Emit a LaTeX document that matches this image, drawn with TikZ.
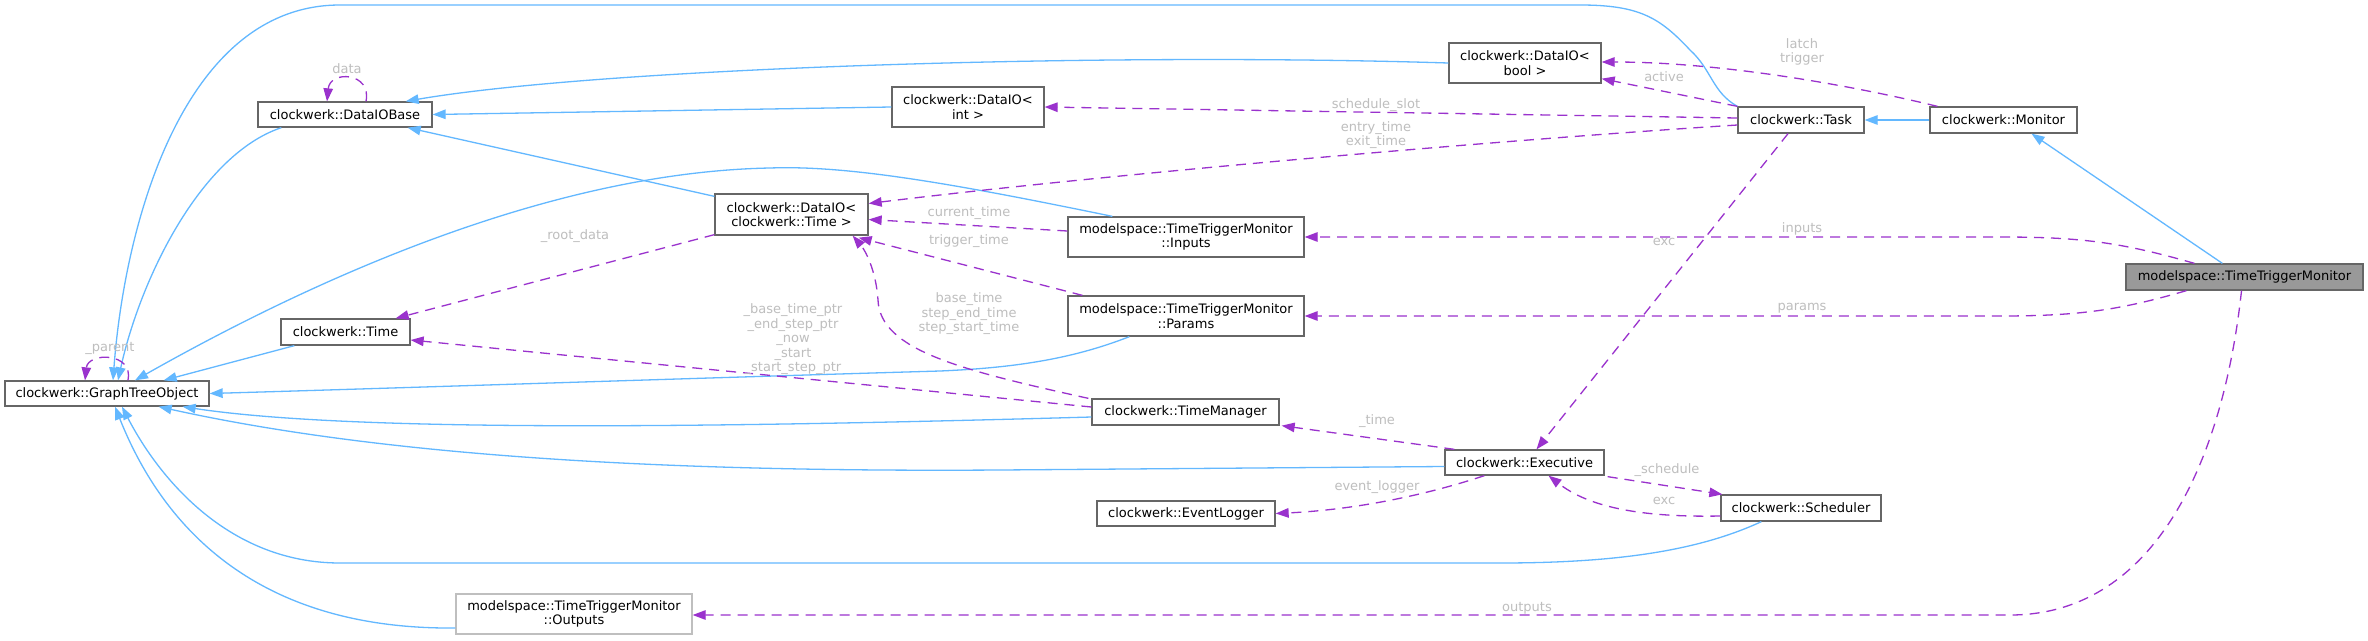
\documentclass[tikz,border=0pt]{standalone}
\usepackage{fontspec}
\setmainfont{DejaVu Sans}
\usetikzlibrary{calc,arrows.meta}
\definecolor{sblue}{HTML}{63B8FF}
\definecolor{dorchid}{HTML}{9A32CD}
\definecolor{greyforty}{HTML}{666666}
\definecolor{greyseventyfive}{HTML}{BFBFBF}
\definecolor{greysixty}{HTML}{999999}
\definecolor{lgrey}{HTML}{BEBEBE}
\tikzset{
  cls/.style={draw=greyforty, fill=white, line width=1.3pt, inner sep=0pt, align=center,
    font=\fontsize{13}{14.5}\selectfont},
  inh/.style={draw=sblue, line width=1.3pt, -{Triangle[length=13pt,width=9.5pt]}},
  use/.style={draw=dorchid, line width=1.3pt, dash pattern=on 10pt off 7pt,
    -{Triangle[length=13pt,width=9.5pt]}},
  lbl/.style={text=lgrey, font=\fontsize{13}{14.5}\selectfont, align=center, inner sep=0pt}
}
\begin{document}
\begin{tikzpicture}[x=1pt,y=-1pt]
\fill[white] (0,0) rectangle (2368,640);
\useasboundingbox (0,0) rectangle (2368,640);
% nodes
\node[cls, minimum width=174pt, minimum height=25pt] (DataIOBase) at (345,114.5) {clockwerk::DataIOBase};
\node[cls, minimum width=204pt, minimum height=25pt] (GTO) at (107,393.5) {clockwerk::GraphTreeObject};
\node[cls, minimum width=129pt, minimum height=26pt] (Time) at (345.5,332) {clockwerk::Time};
\node[cls, minimum width=153pt, minimum height=41pt] (DIOTime) at (791.5,214.5) {clockwerk::DataIO<\\clockwerk::Time >};
\node[cls, minimum width=152pt, minimum height=40pt] (DIOint) at (968,107) {clockwerk::DataIO<\\int >};
\node[cls, minimum width=152pt, minimum height=40pt] (DIObool) at (1525,63) {clockwerk::DataIO<\\bool >};
\node[cls, minimum width=236pt, minimum height=40pt] (Inputs) at (1186,237) {modelspace::TimeTriggerMonitor\\::Inputs};
\node[cls, minimum width=236pt, minimum height=40pt] (Params) at (1186,316) {modelspace::TimeTriggerMonitor\\::Params};
\node[cls, draw=greyseventyfive, minimum width=236pt, minimum height=40pt] (Outputs) at (574,614) {modelspace::TimeTriggerMonitor\\::Outputs};
\node[cls, minimum width=187pt, minimum height=26pt] (TimeManager) at (1185.5,412) {clockwerk::TimeManager};
\node[cls, minimum width=178pt, minimum height=25pt] (EventLogger) at (1186,513.5) {clockwerk::EventLogger};
\node[cls, minimum width=159pt, minimum height=25pt] (Executive) at (1524.5,462.5) {clockwerk::Executive};
\node[cls, minimum width=160pt, minimum height=26pt] (Scheduler) at (1801,508) {clockwerk::Scheduler};
\node[cls, minimum width=126pt, minimum height=26pt] (Task) at (1801,120) {clockwerk::Task};
\node[cls, minimum width=147pt, minimum height=26pt] (Monitor) at (2003.5,120) {clockwerk::Monitor};
\node[cls, fill=greysixty, minimum width=237pt, minimum height=26pt] (TTM) at (2244.5,277) {modelspace::TimeTriggerMonitor};
% inheritance edges
\draw[inh] (Task.north west) .. controls (1712,92) and (1712,70) .. (1690,50) .. controls (1660,18) and (1640,5) .. (1580,5) -- (340,5) .. controls (185,5) and (125,220) .. ($(GTO.north)+(6,0)$);
\draw[inh] ($(DataIOBase.south west)+(24,0)$) .. controls (200,155) and (140,280) .. ($(GTO.north)+(11,0)$);
\draw[inh] (DIObool.west) .. controls (1100,52) and (600,68) .. ($(DataIOBase.north east)+(-27,0)$);
\draw[inh] (DIOint.west) -- (DataIOBase.east);
\draw[inh] ($(DIOTime.north west)+(0,3)$) -- ($(DataIOBase.south east)+(-25,0)$);
\draw[inh] ($(Inputs.north west)+(45,0)$) .. controls (960,185) and (850,165) .. (770,168) .. controls (560,172) and (330,270) .. ($(GTO.north)+(28,0)$);
\draw[inh] ($(Time.south west)+(14,0)$) -- ($(GTO.north east)+(-46,0)$);
\draw[inh] ($(Params.south west)+(62,0)$) .. controls (1070,360) and (1010,368) .. (940,371) .. controls (700,378) and (400,388) .. (GTO.east);
\draw[inh] ($(TimeManager.west)+(0,5)$) .. controls (700,428) and (350,432) .. ($(GTO.south east)+(-27,0)$);
\draw[inh] ($(Executive.west)+(0,4)$) -- (1000,470) .. controls (700,472) and (400,460) .. ($(GTO.south east)+(-51,0)$);
\draw[inh] ($(Scheduler.south west)+(41,0)$) .. controls (1700,550) and (1620,563) .. (1500,563) -- (340,563) .. controls (230,563) and (160,480) .. ($(GTO.south)+(15,0)$);
\draw[inh] ($(Outputs.west)+(0,14)$) .. controls (250,630) and (160,520) .. ($(GTO.south)+(8,0)$);
\draw[inh] (Monitor.west) -- (Task.east);
\draw[inh] ($(TTM.north west)+(97,0)$) -- ($(Monitor.south)+(28,0)$);
% usage edges
\draw[use] ($(DataIOBase.north)+(21,0)$) .. controls (372,72) and (330,70) .. ($(DataIOBase.north)+(-18,0)$);
\node[lbl] (ldata) at (347,69) {data};
\draw[use] ($(GTO.north)+(21,0)$) .. controls (134,352) and (88,352) .. ($(GTO.north)+(-22,0)$);
\node[lbl] (lparent) at (110,348) {\_parent};
\draw[use] ($(DIOTime.south west)+(0,-1)$) -- ($(Time.north east)+(-15,0)$);
\node[lbl] (lroot) at (575,236) {\_root\_data};
\draw[use] ($(TimeManager.west)+(0,-5)$) -- ($(Time.east)+(0,8)$);
\node[lbl] (lbase) at (793,339.5) {\_base\_time\_ptr\\\_end\_step\_ptr\\\_now\\\_start\\\_start\_step\_ptr};
\draw[use] ($(TimeManager.north west)+(-3,0)$) .. controls (960,370) and (880,350) .. (878,300) .. controls (876,270) and (865,250) .. ($(DIOTime.south east)+(-16,0)$);
\node[lbl] (lbt) at (969,314) {base\_time\\step\_end\_time\\step\_start\_time};
\draw[use] ($(Params.north west)+(15,0)$) -- ($(DIOTime.south east)+(-10,2)$);
\node[lbl] (ltrig) at (969,241) {trigger\_time};
\draw[use] ($(Inputs.west)+(0,-6)$) -- ($(DIOTime.east)+(0,5)$);
\node[lbl] (lcur) at (969,213) {current\_time};
\draw[use] ($(Task.west)+(0,5)$) .. controls (1500,140) and (1100,175) .. ($(DIOTime.east)+(0,-11)$);
\node[lbl] (lentry) at (1376,135) {entry\_time\\exit\_time};
\draw[use] ($(Task.west)+(0,-2)$) -- (DIOint.east);
\node[lbl] (lslot) at (1376,105) {schedule\_slot};
\draw[use] (Task.north west) -- ($(DIObool.south east)+(0,-5)$);
\node[lbl] (lactive) at (1664,77) {active};
\draw[use] ($(Monitor.north west)+(8,0)$) .. controls (1850,85) and (1720,62) .. ($(DIObool.east)+(0,-1)$);
\node[lbl] (llatch) at (1802,52) {latch\\trigger};
\draw[use] ($(Task.south)+(-13,0)$) -- ($(Executive.north)+(12,0)$);
\node[lbl] (lexc1) at (1664,242) {exc};
\draw[use] ($(Executive.north west)+(10,0)$) -- ($(TimeManager.south east)+(2,0)$);
\node[lbl] (ltime) at (1377,421) {\_time};
\draw[use] ($(Executive.south west)+(40,0)$) .. controls (1420,497) and (1350,510) .. (EventLogger.east);
\node[lbl] (llog) at (1377,487) {event\_logger};
\draw[use] ($(Executive.south east)+(3,1)$) -- ($(Scheduler.north west)+(2,0)$);
\node[lbl] (lsched) at (1667,470) {\_schedule};
\draw[use] ($(Scheduler.west)+(0,8)$) .. controls (1620,518) and (1580,500) .. ($(Executive.south)+(24,0)$);
\node[lbl] (lexc2) at (1664,501) {exc};
\draw[use] ($(TTM.north west)+(69,0)$) .. controls (2120,242) and (2080,237) .. (2000,237) -- (Inputs.east);
\node[lbl] (linputs) at (1802,229) {inputs};
\draw[use] ($(TTM.south west)+(61,0)$) .. controls (2120,310) and (2080,316) .. (2000,316) -- (Params.east);
\node[lbl] (lparams) at (1802,308) {params};
\draw[use] ($(TTM.south)+(-3,0)$) .. controls (2222,470) and (2150,615) .. (2010,615) -- ($(Outputs.east)+(0,1)$);
\node[lbl] (loutputs) at (1527,608) {outputs};
\end{tikzpicture}
\end{document}
